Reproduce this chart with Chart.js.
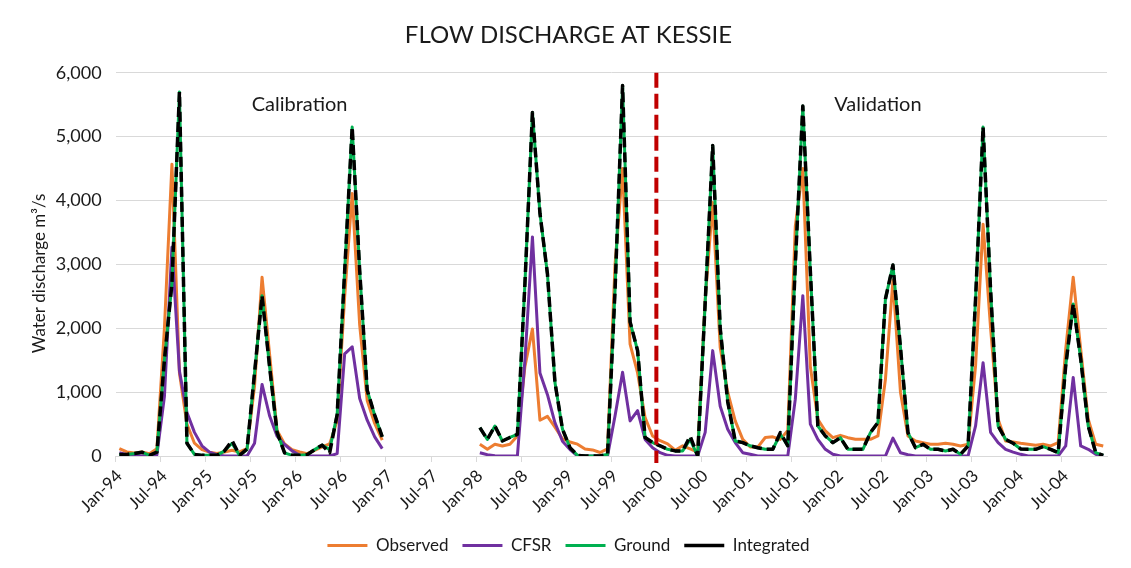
<!DOCTYPE html>
<html>
<head>
<meta charset="utf-8">
<script src="https://cdn.jsdelivr.net/npm/chart.js@4.4.1/dist/chart.umd.min.js"></script>
<style>
  html, body { margin: 0; padding: 0; background: #fff; }
  #wrap { width: 1131px; height: 568px; }
</style>
</head>
<body>
<div id="wrap"><canvas id="flowChart" width="1131" height="568"></canvas></div>
<script>
// monthly categories, Jan-94 .. Dec-04
const monthNames = ["Jan", "Feb", "Mar", "Apr", "May", "Jun", "Jul", "Aug", "Sep", "Oct", "Nov", "Dec"];
const years = ["94", "95", "96", "97", "98", "99", "00", "01", "02", "03", "04"];
const months = [];
years.forEach(y => monthNames.forEach(m => months.push(m + "-" + y)));

const gap97 = [null, null, null, null, null, null, null, null, null, null, null, null];

// Water discharge m3/s, one row per year
const observed = [
  115, 63, 47, 63, 37, 115, 2000, 4570, 1300, 500, 200, 100,
  60, 40, 63, 89, 63, 115, 1100, 2800, 1600, 400, 190, 100,
  63, 37, 89, 141, 190, 550, 2500, 4110, 2050, 870, 510, 250,
  ...gap97,
  183, 105, 183, 157, 183, 314, 1400, 1990, 560, 620, 450, 270,
  220, 185, 110, 95, 55, 110, 3000, 4500, 1750, 1300, 600, 314,
  240, 190, 90, 160, 110, 60, 2450, 3970, 1700, 1000, 550, 260,
  140, 140, 290, 300, 260, 400, 3600, 4500, 1400, 575, 392, 287,
  324, 287, 261, 261, 261, 314, 1200, 2750, 1000, 314, 235, 209,
  183, 183, 198, 183, 157, 183, 1410, 3630, 2000, 575, 235, 220,
  200, 183, 167, 183, 157, 209, 1670, 2800, 1670, 575, 183, 157
];

const cfsr = [
  50, 20, 10, 0, 0, 20, 930, 3270, 1330, 680, 370, 160,
  60, 20, 0, 0, 0, 0, 200, 1120, 630, 310, 180, 80,
  10, 0, 0, 0, 0, 37, 1600, 1710, 900, 560, 300, 115,
  ...gap97,
  52, 20, 5, 0, 0, 5, 1500, 3430, 1300, 960, 520, 230,
  100, 0, 0, 0, 0, 0, 630, 1310, 550, 710, 260, 130,
  52, 10, 0, 0, 0, 0, 370, 1650, 780, 420, 210, 52,
  26, 0, 0, 0, 0, 0, 890, 2510, 500, 260, 105, 26,
  0, 0, 0, 0, 0, 0, 0, 280, 50, 20, 0, 0,
  0, 0, 0, 0, 0, 0, 470, 1460, 370, 210, 105, 60,
  26, 0, 0, 0, 0, 0, 157, 1230, 157, 105, 26, 0
];

const ground = [
  25, 25, 40, 60, 10, 60, 1500, 2700, 5700, 200, 25, 10,
  10, 10, 80, 200, 10, 100, 1300, 2510, 1400, 370, 50, 10,
  10, 20, 100, 170, 100, 650, 2900, 5150, 2900, 1030, 640, 300,
  ...gap97,
  444, 260, 470, 235, 290, 340, 2700, 5380, 3800, 2850, 1150, 420,
  130, 10, 0, 0, 0, 26, 2600, 5800, 2100, 1650, 290, 210,
  160, 105, 80, 80, 260, 0, 2400, 4860, 2000, 850, 235, 210,
  160, 130, 105, 105, 340, 160, 3000, 5480, 2900, 470, 314, 209,
  287, 105, 105, 105, 366, 523, 2460, 2990, 1700, 366, 130, 183,
  105, 105, 78, 105, 26, 157, 2460, 5150, 2600, 470, 261, 200,
  110, 105, 105, 146, 105, 52, 1410, 2380, 1520, 470, 52, 10
];

const integrated = [
  25, 25, 40, 60, 10, 60, 1500, 2700, 5700, 200, 25, 10,
  10, 10, 80, 240, 10, 110, 1300, 2510, 1400, 370, 50, 10,
  10, 20, 100, 170, 50, 650, 2900, 5150, 2900, 1030, 640, 300,
  ...gap97,
  444, 260, 470, 235, 290, 340, 2700, 5380, 3800, 2850, 1150, 420,
  130, 10, 0, 0, 0, 26, 2600, 5800, 2100, 1650, 290, 210,
  160, 105, 80, 80, 310, 0, 2400, 4860, 2000, 850, 235, 210,
  160, 130, 105, 105, 366, 160, 3000, 5480, 2900, 470, 314, 209,
  287, 105, 105, 105, 366, 523, 2460, 2990, 1700, 366, 130, 183,
  105, 105, 78, 105, 26, 157, 2460, 5150, 2600, 470, 261, 200,
  110, 105, 105, 146, 105, 52, 1410, 2380, 1520, 470, 52, 10
];

// calibration / validation split and period labels
const splitMonth = "Jan-00";
const periodLabels = [
  { text: "Calibration", month: "Jan-96", value: 5500 },
  { text: "Validation", month: "Jun-02", value: 5500 }
];
const yTitle = "Water discharge m³/s";

const FONT = "Lato, 'Open Sans', sans-serif";
const TEXT = "#1a1a1a";
const GRID = "#d9d9d9";

/* ---- red dashed split line, period labels, y title ---- */
const periodPlugin = {
  id: "periods",
  afterDatasetsDraw(chart) {
    const { ctx, chartArea, scales: { x, y } } = chart;
    const i = months.indexOf(splitMonth);
    const px = (x.getPixelForValue(i - 1) + x.getPixelForValue(i)) / 2;
    ctx.save();
    ctx.strokeStyle = "#c00000";
    ctx.lineWidth = 4;
    ctx.setLineDash([15, 6]);
    ctx.beginPath();
    ctx.moveTo(px, y.getPixelForValue(6000));
    ctx.lineTo(px, y.bottom + 7);
    ctx.stroke();
    ctx.setLineDash([]);

    ctx.fillStyle = TEXT;
    ctx.font = "20px " + FONT;
    ctx.textAlign = "center";
    ctx.textBaseline = "middle";
    periodLabels.forEach(p => {
      ctx.fillText(p.text, x.getPixelForValue(months.indexOf(p.month)), y.getPixelForValue(p.value));
    });

    // axis title, a little below the middle like the original
    ctx.font = "17px " + FONT;
    ctx.translate(40, (chartArea.top + chartArea.bottom) / 2 + 9);
    ctx.rotate(-Math.PI / 2);
    ctx.fillText(yTitle, 0, 0);
    ctx.restore();
  }
};

new Chart(document.getElementById("flowChart"), {
  type: "line",
  data: {
    labels: months,
    datasets: [
      { label: "Observed", data: observed, borderColor: "#ed7d31", backgroundColor: "#ed7d31", borderWidth: 3, order: 3 },
      { label: "CFSR", data: cfsr, borderColor: "#7030a0", backgroundColor: "#7030a0", borderWidth: 3, order: 2 },
      { label: "Ground", data: ground, borderColor: "#00b050", backgroundColor: "#00b050", borderWidth: 3, order: 1 },
      { label: "Integrated", data: integrated, borderColor: "#000000", backgroundColor: "#000000", borderWidth: 3.5, borderDash: [10, 5], order: 0 }
    ]
  },
  options: {
    responsive: false,
    animation: false,
    spanGaps: false,
    elements: {
      point: { radius: 0, hoverRadius: 0 },
      line: { tension: 0, borderJoinStyle: "round" }
    },
    layout: { padding: { left: 30, right: 24, top: 0, bottom: 4 } },
    plugins: {
      title: {
        display: true,
        text: "FLOW DISCHARGE AT KESSIE",
        color: TEXT,
        font: { family: FONT, size: 24, weight: "normal" },
        padding: { top: 21, bottom: 23 }
      },
      legend: {
        position: "bottom",
        labels: {
          color: TEXT,
          font: { family: FONT, size: 17 },
          usePointStyle: true,
          pointStyle: "line",
          pointStyleWidth: 40,
          padding: 14,
          sort: (a, b) => a.datasetIndex - b.datasetIndex
        }
      },
      tooltip: { enabled: false }
    },
    scales: {
      x: {
        offset: true,
        grid: {
          offset: true,
          drawOnChartArea: false,
          drawTicks: true,
          tickLength: 6,
          tickColor: c => (c.index % 6 === 0 ? GRID : "rgba(0,0,0,0)")
        },
        border: { display: true, color: GRID, width: 1 },
        ticks: {
          autoSkip: false,
          maxRotation: 45,
          minRotation: 45,
          padding: 4,
          color: TEXT,
          font: { family: FONT, size: 17 },
          callback: (value) => (value % 6 === 0 ? months[value] : "")
        },
        afterFit: s => { s.height = 67; }
      },
      y: {
        min: 0,
        max: 6000,
        grid: { color: GRID, drawTicks: false },
        border: { display: false },
        ticks: {
          stepSize: 1000,
          padding: 14,
          color: TEXT,
          font: { family: FONT, size: 18 }
        },
        afterFit: s => { s.width = 85.6; }
      }
    }
  },
  plugins: [periodPlugin]
});
</script>
</body>
</html>
